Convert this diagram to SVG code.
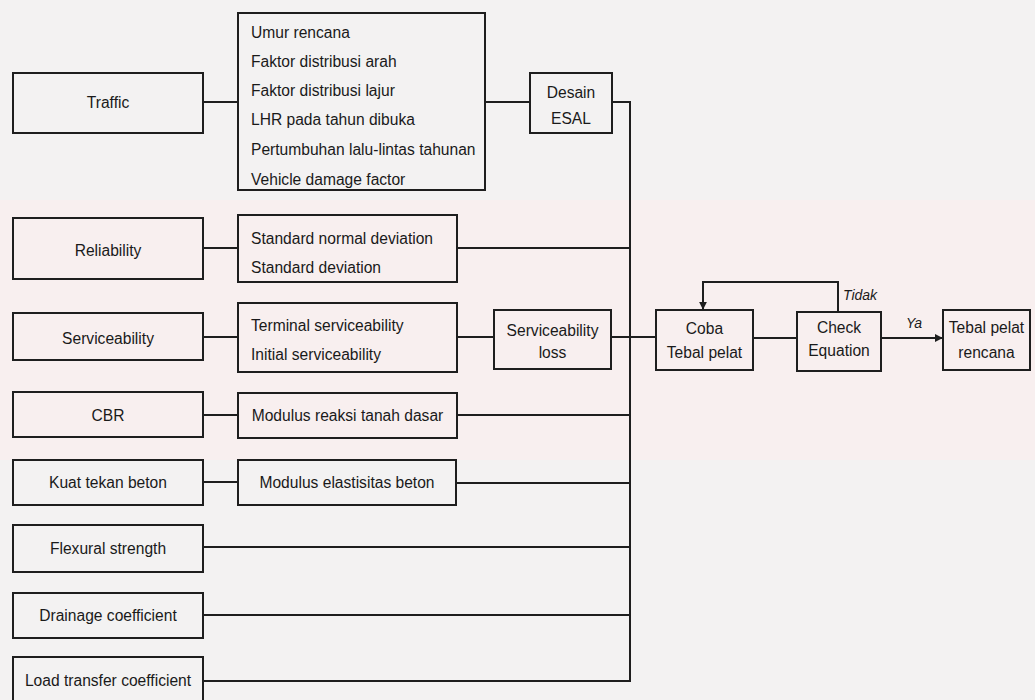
<svg xmlns="http://www.w3.org/2000/svg" width="1035" height="700" viewBox="0 0 1035 700">
<style>
  .box { fill: none; stroke: #1e1e1e; stroke-width: 2; }
  .t { font-family: "Liberation Sans", Arial, sans-serif; font-size: 15.6px; fill: #1a1a1a; }
  .c { text-anchor: middle; }
  .lbl { font-family: "Liberation Sans", Arial, sans-serif; font-size: 14px; font-style: italic; fill: #1a1a1a; }
  .ln { fill: none; stroke: #1e1e1e; stroke-width: 2; }
</style>
<defs>
  <marker id="arr" viewBox="0 0 10 10" refX="9" refY="5" markerWidth="4" markerHeight="4" orient="auto" markerUnits="strokeWidth">
    <path d="M0,0 L10,5 L0,10 z" fill="#1e1e1e"/>
  </marker>
</defs>
<rect x="0" y="0" width="1035" height="700" fill="#f3f2f2"/>
<rect x="0" y="200" width="1035" height="260" fill="#f8efef"/>

<g id="connectors">
  <path class="ln" d="M203,102 H238"/>
  <path class="ln" d="M485,102 H530"/>
  <path class="ln" d="M612,102 H630 V682"/>
  <path class="ln" d="M203,248 H238"/>
  <path class="ln" d="M457,248 H630"/>
  <path class="ln" d="M203,337 H238"/>
  <path class="ln" d="M457,337 H494"/>
  <path class="ln" d="M611,337 H656"/>
  <path class="ln" d="M203,415 H238"/>
  <path class="ln" d="M457,415 H630"/>
  <path class="ln" d="M203,482 H238"/>
  <path class="ln" d="M456,483 H630"/>
  <path class="ln" d="M203,547 H630"/>
  <path class="ln" d="M203,615 H630"/>
  <path class="ln" d="M203,681 H630"/>
  <path class="ln" d="M753,338 H797"/>
  <path class="ln" d="M881,338 H942" marker-end="url(#arr)"/>
  <path class="ln" d="M838,312 V282 H703 V309" marker-end="url(#arr)"/>
  <text class="lbl" x="843" y="300">Tidak</text>
  <text class="lbl" x="906" y="328">Ya</text>
</g>

<g id="traffic">
  <rect class="box" x="13" y="73" width="190" height="60"/>
  <text class="t c" x="108" y="108">Traffic</text>
</g>
<g id="traffic-params">
  <rect class="box" x="238" y="13" width="247" height="177"/>
  <text class="t" x="251" y="37.5">Umur rencana</text>
  <text class="t" x="251" y="66.5">Faktor distribusi arah</text>
  <text class="t" x="251" y="95.5">Faktor distribusi lajur</text>
  <text class="t" x="251" y="124.5">LHR pada tahun dibuka</text>
  <text class="t" x="251" y="154.5">Pertumbuhan lalu-lintas tahunan</text>
  <text class="t" x="251" y="184.5">Vehicle damage factor</text>
</g>
<g id="desain-esal">
  <rect class="box" x="530" y="73" width="82" height="60"/>
  <text class="t c" x="571" y="97.5">Desain</text>
  <text class="t c" x="571" y="124">ESAL</text>
</g>
<g id="reliability">
  <rect class="box" x="13" y="218" width="190" height="61"/>
  <text class="t c" x="108" y="255.5">Reliability</text>
</g>
<g id="reliability-params">
  <rect class="box" x="238" y="215" width="219" height="67"/>
  <text class="t" x="251" y="243.5">Standard normal deviation</text>
  <text class="t" x="251" y="272.5">Standard deviation</text>
</g>
<g id="serviceability">
  <rect class="box" x="13" y="313" width="190" height="47"/>
  <text class="t c" x="108" y="343.5">Serviceability</text>
</g>
<g id="serviceability-params">
  <rect class="box" x="238" y="303" width="219" height="69"/>
  <text class="t" x="251" y="330.5">Terminal serviceability</text>
  <text class="t" x="251" y="359.5">Initial serviceability</text>
</g>
<g id="serviceability-loss">
  <rect class="box" x="494" y="310" width="117" height="59"/>
  <text class="t c" x="552.5" y="335.5">Serviceability</text>
  <text class="t c" x="552.5" y="357.5">loss</text>
</g>
<g id="coba-tebal-pelat">
  <rect class="box" x="656" y="310" width="97" height="60"/>
  <text class="t c" x="704.5" y="333.5">Coba</text>
  <text class="t c" x="704.5" y="357.5">Tebal pelat</text>
</g>
<g id="check-equation">
  <rect class="box" x="797" y="312" width="84" height="59"/>
  <text class="t c" x="839" y="332.5">Check</text>
  <text class="t c" x="839" y="355.5">Equation</text>
</g>
<g id="tebal-pelat-rencana">
  <rect class="box" x="943" y="310" width="87" height="60"/>
  <text class="t c" x="986.5" y="332.5">Tebal pelat</text>
  <text class="t c" x="986.5" y="357.5">rencana</text>
</g>
<g id="cbr">
  <rect class="box" x="13" y="392" width="190" height="45"/>
  <text class="t c" x="108" y="420.5">CBR</text>
</g>
<g id="modulus-reaksi">
  <rect class="box" x="238" y="393" width="219" height="45"/>
  <text class="t c" x="347.5" y="420.5">Modulus reaksi tanah dasar</text>
</g>
<g id="kuat-tekan">
  <rect class="box" x="13" y="460" width="190" height="45"/>
  <text class="t c" x="108" y="487.5">Kuat tekan beton</text>
</g>
<g id="modulus-elastisitas">
  <rect class="box" x="238" y="460" width="218" height="45"/>
  <text class="t c" x="347" y="488">Modulus elastisitas beton</text>
</g>
<g id="flexural">
  <rect class="box" x="13" y="525" width="190" height="47"/>
  <text class="t c" x="108" y="553.5">Flexural strength</text>
</g>
<g id="drainage">
  <rect class="box" x="13" y="593" width="190" height="45"/>
  <text class="t c" x="108" y="620.5">Drainage coefficient</text>
</g>
<g id="load-transfer">
  <rect class="box" x="13" y="657" width="190" height="60"/>
  <text class="t c" x="108" y="685.5">Load transfer coefficient</text>
</g>
</svg>
